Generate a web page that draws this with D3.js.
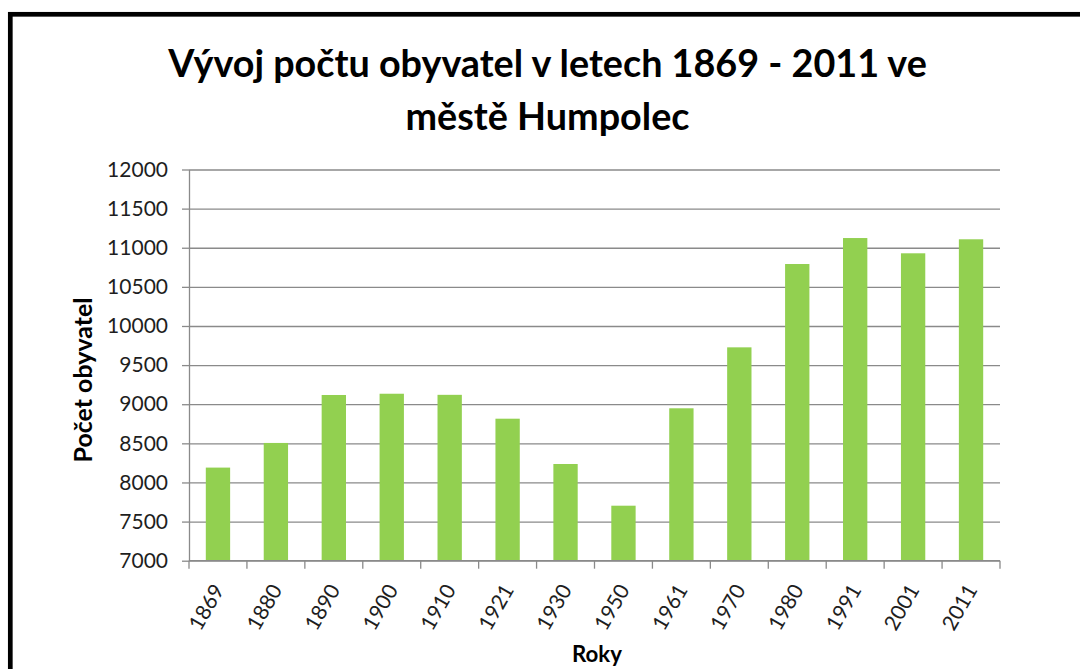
<!DOCTYPE html>
<html>
<head>
<meta charset="utf-8">
<script src="https://cdn.jsdelivr.net/npm/d3@7"></script>
<style>
	body { margin: 0; background: #fff; }
	svg { display: block; }
</style>
</head>
<body>
<script>
//////////////////////////////////////////////////
// data
//////////////////////////////////////////////////
var years = ['1869', '1880', '1890', '1900', '1910', '1921', '1930',
	'1950', '1961', '1970', '1980', '1991', '2001', '2011'];
var population = [8190, 8505, 9118, 9134, 9120, 8815, 8236,
	7703, 8948, 9727, 10792, 11124, 10929, 11108];
var yTickValues = [7000, 7500, 8000, 8500, 9000, 9500, 10000,
	10500, 11000, 11500, 12000];
var titleLines = ['Vývoj počtu obyvatel v letech 1869 - 2011 ve', 'městě Humpolec'];
var yTitle = 'Počet obyvatel';
var xTitle = 'Roky';

//////////////////////////////////////////////////
// layout
//////////////////////////////////////////////////
var width = 1080,
	height = 669,
	plot = {left: 189, right: 1000, top: 169.5, bottom: 560.7},
	font = 'Lato, "Open Sans", sans-serif',
	tickFontSize = 21,
	gridColor = '#8a8a8a',
	barColor = '#92d050';

var svg = d3.select('body').append('svg')
	.attr('width', width)
	.attr('height', height);

// scales the text to a measured width (Calibri is narrower than what we have)
function fitWidth(sel, target) {
	var w = sel.node().getComputedTextLength();
	sel.attr('font-size', parseFloat(sel.attr('font-size')) * target / w);
}

// outer frame, runs off the right and bottom edge
svg.append('rect')
	.attr('x', 10.3)
	.attr('y', 14.3)
	.attr('width', 1200)
	.attr('height', 800)
	.attr('fill', 'none')
	.attr('stroke', '#000')
	.attr('stroke-width', 4.7);

var x = d3.scaleBand()
	.domain(years)
	.range([plot.left, plot.right])
	.paddingInner(0.58)
	.paddingOuter(0.29);

var y = d3.scaleLinear()
	.domain([7000, 12000])
	.range([plot.bottom, plot.top]);

//////////////////////////////////////////////////
// gridlines
//////////////////////////////////////////////////
svg.append('g')
	.attr('transform', 'translate(' + plot.left + ',0)')
	.call(d3.axisLeft(y).tickValues(yTickValues)
		.tickSize(-(plot.right - plot.left)).tickFormat(''))
	.call(function(g) {
		g.select('.domain').remove();
		g.selectAll('line').attr('stroke', gridColor).attr('stroke-width', 1.3);
	});

//////////////////////////////////////////////////
// bars
//////////////////////////////////////////////////
svg.append('g').selectAll('rect')
	.data(population)
	.join('rect')
	.attr('x', function(d, i) { return x(years[i]); })
	.attr('y', function(d) { return y(d); })
	.attr('width', x.bandwidth())
	.attr('height', function(d) { return y(7000) - y(d); })
	.attr('fill', barColor);

//////////////////////////////////////////////////
// y axis
//////////////////////////////////////////////////
svg.append('g')
	.attr('transform', 'translate(' + plot.left + ',0)')
	.call(d3.axisLeft(y).tickValues(yTickValues).tickFormat(d3.format('d'))
		.tickSize(7).tickPadding(14).tickSizeOuter(0))
	.call(function(g) {
		g.select('.domain').attr('stroke', gridColor).attr('stroke-width', 1.3);
		g.selectAll('line').attr('stroke', gridColor).attr('stroke-width', 1.3);
		g.selectAll('text')
			.attr('font-family', font)
			.attr('font-size', tickFontSize)
			.attr('fill', '#1e1e1e');
	});

//////////////////////////////////////////////////
// x axis: baseline, ticks between categories, rotated labels
//////////////////////////////////////////////////
var halfGap = (x.step() - x.bandwidth()) / 2;
var boundaries = years.map(function(d) { return x(d) - halfGap; });
boundaries.push(x(years[years.length - 1]) + x.bandwidth() + halfGap);

var xAxis = svg.append('g')
	.attr('transform', 'translate(0,' + plot.bottom + ')');

xAxis.append('line')
	.attr('x1', plot.left)
	.attr('x2', plot.right)
	.attr('stroke', gridColor)
	.attr('stroke-width', 1.3);

xAxis.selectAll('line.tick')
	.data(boundaries)
	.join('line')
	.attr('class', 'tick')
	.attr('x1', function(d) { return d; })
	.attr('x2', function(d) { return d; })
	.attr('y2', 8)
	.attr('stroke', gridColor)
	.attr('stroke-width', 1.3);

xAxis.selectAll('text')
	.data(years)
	.join('text')
	.attr('transform', function(d) {
		return 'translate(' + (x(d) + x.bandwidth() / 2 + 7) + ',29) rotate(-60)';
	})
	.attr('text-anchor', 'end')
	.attr('font-family', font)
	.attr('font-size', tickFontSize)
	.attr('fill', '#1e1e1e')
	.text(function(d) { return d; });

//////////////////////////////////////////////////
// titles
//////////////////////////////////////////////////
var t1 = svg.append('text')
	.attr('x', 547.5)
	.attr('y', 77)
	.attr('text-anchor', 'middle')
	.attr('font-family', font)
	.attr('font-weight', 700)
	.attr('font-size', 40)
	.text(titleLines[0]);
fitWidth(t1, 759);

svg.append('text')
	.attr('x', 547.5)
	.attr('y', 130)
	.attr('text-anchor', 'middle')
	.attr('font-family', font)
	.attr('font-weight', 700)
	.attr('font-size', t1.attr('font-size'))
	.text(titleLines[1]);

var yt = svg.append('text')
	.attr('transform', 'translate(92,380) rotate(-90)')
	.attr('text-anchor', 'middle')
	.attr('font-family', font)
	.attr('font-weight', 700)
	.attr('font-size', 20)
	.text(yTitle);
fitWidth(yt, 165);

var xt = svg.append('text')
	.attr('x', 597)
	.attr('y', 662)
	.attr('text-anchor', 'middle')
	.attr('font-family', font)
	.attr('font-weight', 700)
	.attr('font-size', 20)
	.text(xTitle);
fitWidth(xt, 50);
</script>
</body>
</html>
